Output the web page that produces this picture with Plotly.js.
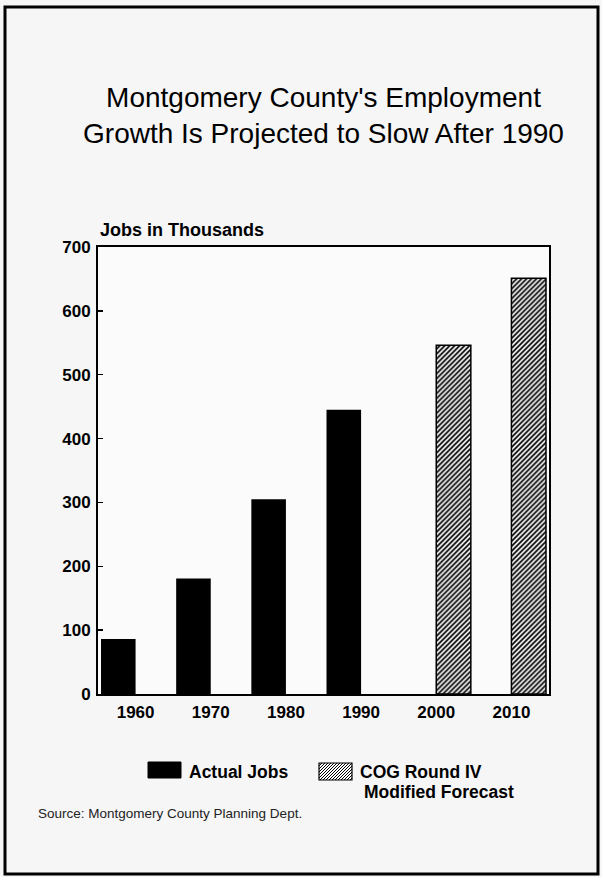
<!DOCTYPE html>
<html>
<head>
<meta charset="utf-8">
<script src="https://cdn.plot.ly/plotly-3.0.1.min.js"></script>
<style>
  html, body { margin: 0; padding: 0; background: #f6f6f6; overflow: hidden; }
  #chart { width: 602px; height: 877px; }
</style>
</head>
<body>
<div id="chart"></div>
<script>
// ---- Data ----
const categories = ['1960', '1970', '1980', '1990', '2000', '2010'];
const actualYears = ['1960', '1970', '1980', '1990'];
const actualJobs = [86, 181, 305, 445];
const forecastYears = ['2000', '2010'];
const forecastJobs = [546, 651];
const yTickVals = [0, 100, 200, 300, 400, 500, 600, 700];
const yTickText = ['0', '100', '200', '300', '400', '500', '600', '700'];

const titleText = "Montgomery County's Employment<br>Growth Is Projected to Slow After 1990";
const yLabel = 'Jobs in Thousands';
const legendActual = 'Actual Jobs';
const legendForecast1 = 'COG Round IV';
const legendForecast2 = 'Modified Forecast';
const sourceText = 'Source: Montgomery County Planning Dept.';

const FONT = '"Liberation Sans", Arial, Helvetica, sans-serif';

const traces = [
  {
    type: 'bar', name: 'Actual Jobs',
    x: actualYears, y: actualJobs,
    width: 0.46, offset: -0.46,
    marker: { color: '#000000', line: { width: 0 } },
    hoverinfo: 'x+y'
  },
  {
    type: 'bar', name: 'COG Round IV Modified Forecast',
    x: forecastYears, y: forecastJobs,
    width: 0.46, offset: 0,
    marker: {
      color: '#ffffff',
      line: { color: '#000000', width: 1.5 },
      pattern: { shape: '/', fgcolor: '#000000', bgcolor: '#ffffff', size: 3.5, solidity: 0.5 }
    },
    hoverinfo: 'x+y'
  }
];

// hatch path for legend swatch (pixel coordinates relative to plot-area bottom-left)
function hatchPath(x0, y0, w, h, step) {
  let p = '';
  for (let k = -h; k <= w; k += step) {
    const t0 = Math.max(0, -k);
    const t1 = Math.min(h, w - k);
    if (t1 > t0) {
      p += 'M' + (x0 + k + t0) + ',' + (y0 + t0) + 'L' + (x0 + k + t1) + ',' + (y0 + t1);
    }
  }
  return p;
}

const pxShape = (o) => Object.assign({
  xref: 'paper', yref: 'paper', xsizemode: 'pixel', ysizemode: 'pixel',
  xanchor: 0, yanchor: 0
}, o);

const shapes = [
  // outer frame of the figure
  pxShape({ type: 'rect', x0: -93, x1: 500, y0: -180, y1: 687,
            line: { color: '#000000', width: 3 }, fillcolor: 'rgba(0,0,0,0)' }),
  // legend swatch: actual
  pxShape({ type: 'rect', x0: 50, x1: 83, y0: -84, y1: -68,
            line: { color: '#000000', width: 1 }, fillcolor: '#000000' }),
  // legend swatch: forecast (hatched)
  pxShape({ type: 'rect', x0: 221, x1: 254, y0: -86, y1: -69,
            line: { color: '#000000', width: 1.2 }, fillcolor: '#ffffff' }),
  pxShape({ type: 'path', path: hatchPath(221, -86, 33, 17, 3),
            line: { color: '#000000', width: 1 } })
];

const annFont = { family: FONT, size: 17.5, color: '#000000', weight: 'bold' };
const annotations = [
  { text: yLabel, xref: 'paper', yref: 'paper', x: 0, y: 1, xanchor: 'left', yanchor: 'middle',
    xshift: 0, yshift: 17, showarrow: false, font: { family: FONT, size: 18, color: '#000', weight: 'bold' } },
  { text: legendActual, xref: 'paper', yref: 'paper', x: 0, y: 0, xanchor: 'left', yanchor: 'middle',
    xshift: 89, yshift: -78, showarrow: false, font: annFont },
  { text: legendForecast1, xref: 'paper', yref: 'paper', x: 0, y: 0, xanchor: 'left', yanchor: 'middle',
    xshift: 260, yshift: -78, showarrow: false, font: annFont },
  { text: legendForecast2, xref: 'paper', yref: 'paper', x: 0, y: 0, xanchor: 'left', yanchor: 'middle',
    xshift: 264, yshift: -98, showarrow: false, font: annFont },
  { text: sourceText, xref: 'paper', yref: 'paper', x: 0, y: 0, xanchor: 'left', yanchor: 'middle',
    xshift: -62, yshift: -119, showarrow: false,
    font: { family: FONT, size: 13.5, color: '#222' } }
];

const layout = {
  width: 602, height: 877,
  margin: { l: 98, r: 53, t: 247, b: 183, pad: 0 },
  paper_bgcolor: '#f6f6f6',
  plot_bgcolor: '#fbfbfb',
  showlegend: false,
  bargap: 0.08,
  font: { family: FONT, color: '#000000' },
  title: {
    text: titleText,
    font: { family: FONT, size: 28, color: '#000000' },
    xref: 'paper', x: 0.5, xanchor: 'center',
    yref: 'container', y: 1 - 107 / 877, yanchor: 'top'
  },
  xaxis: {
    type: 'category',
    categoryorder: 'array', categoryarray: categories,
    tickvals: categories, ticktext: categories,
    showline: true, linecolor: '#000000', linewidth: 2, mirror: true,
    ticks: '', showgrid: false, zeroline: false,
    tickfont: { family: FONT, size: 17, color: '#000000', weight: 'bold' },
    ticklabelstandoff: 2,
    fixedrange: true
  },
  yaxis: {
    range: [0, 700],
    tickvals: yTickVals, ticktext: yTickText,
    showline: true, linecolor: '#000000', linewidth: 2, mirror: true,
    ticks: 'inside', ticklen: 5, tickwidth: 1.5, tickcolor: '#000000',
    showgrid: false, zeroline: false,
    tickfont: { family: FONT, size: 17, color: '#000000', weight: 'bold' },
    ticklabelstandoff: 2,
    fixedrange: true
  },
  shapes: shapes,
  annotations: annotations
};

Plotly.newPlot('chart', traces, layout, { staticPlot: true, displayModeBar: false });
</script>
</body>
</html>
